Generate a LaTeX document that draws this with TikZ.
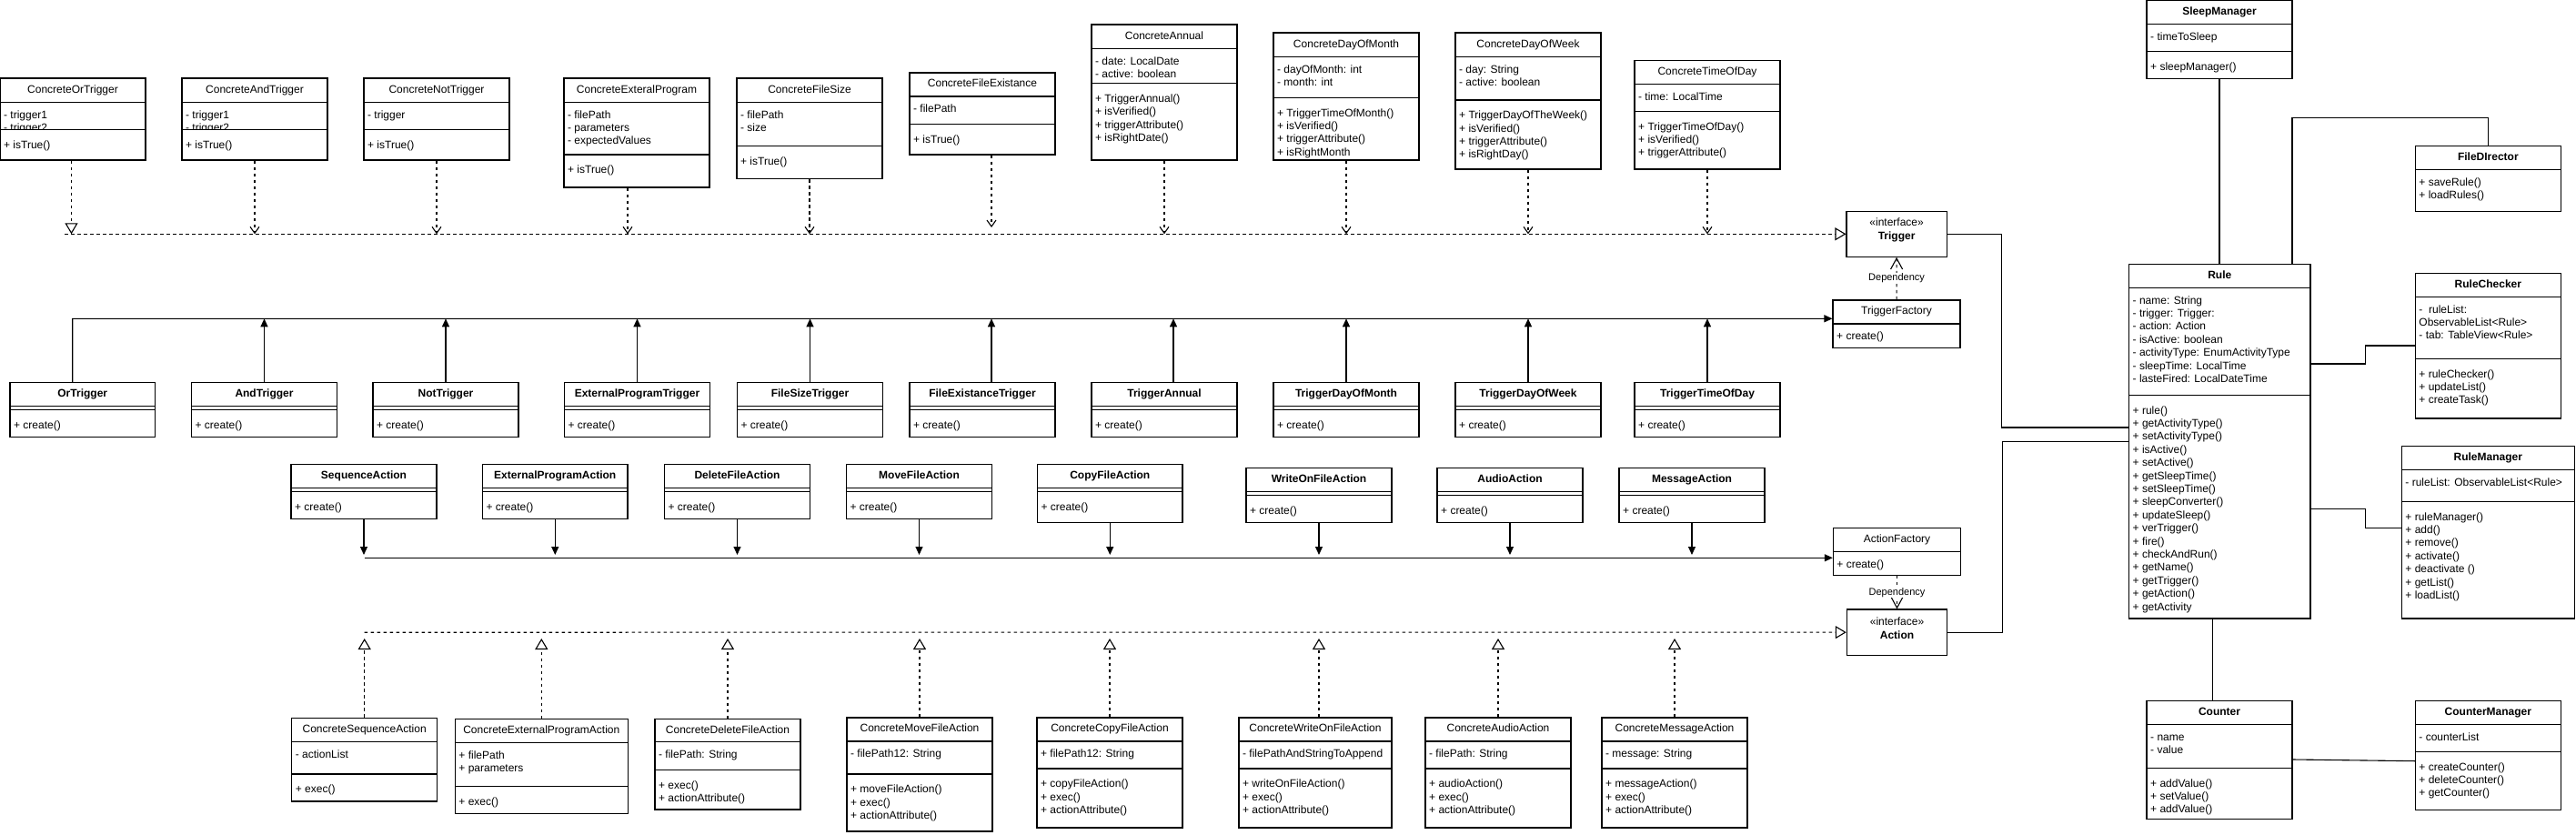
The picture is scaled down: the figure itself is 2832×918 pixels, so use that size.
\documentclass[tikz,border=0pt]{standalone}
\usepackage{fontspec}
\setmainfont{Liberation Sans}
\usetikzlibrary{arrows.meta, fit, positioning, calc}

\tikzset{
  classbox/.style={draw, inner sep=0pt, line width=1.1pt},
  classtitle/.style={inner sep=0pt, font=\fontsize{12}{14.4}\selectfont, text height=9pt, text depth=2.5pt},
  member/.style={inner sep=0pt, anchor=north west, align=left, font=\fontsize{12}{14.4}\selectfont, xshift=4.5pt},
  ifacebox/.style={draw, inner sep=0pt, line width=1.1pt, align=center, font=\fontsize{12}{15}\selectfont},
  realline/.style={dash pattern=on 3.5pt off 3.5pt, line width=1.1pt},
  realv/.style={realline, -{Straight Barb[length=7pt,width=10pt]}},
  realt/.style={realline, -{Triangle[open,fill=white,length=12pt,width=14pt]}},
  dep/.style={realline, -{Straight Barb[length=12pt,width=13pt]}},
  deplabel/.style={fill=white, inner sep=1pt, font=\fontsize{11}{13}\selectfont},
  flow/.style={line width=1.1pt, -{Triangle[length=9pt,width=8pt]}},
  assoc/.style={line width=1.1pt},
}

\newcommand{\umlclass}[8]{%
  \node[classbox, fit={(#2) (#3)}] (#1) {};
  \draw[line width=1.1pt] (#1.west |- 0,#4) -- (#1.east |- 0,#4);
  \draw[line width=1.1pt] (#1.west |- 0,#5) -- (#1.east |- 0,#5);
  \path (#1.north) -- (#1.north |- 0,#4) node[midway, classtitle] (#1-t) {#6};
  \begin{scope}
    \clip (#1.west |- 0,#4) rectangle (#1.east |- 0,#5);
    \node[member, yshift=-8.5pt] (#1-a) at (#1.west |- 0,#4) {\rule{0pt}{9pt}#7};
  \end{scope}
  \node[member, yshift=-11.5pt] (#1-m) at (#1.west |- 0,#5) {\rule{0pt}{9pt}#8};
}

\newcommand{\umlbox}[6]{%
  \node[classbox, fit={(#2) (#3)}] (#1) {};
  \draw[line width=1.1pt] (#1.west |- 0,#4) -- (#1.east |- 0,#4);
  \path (#1.north) -- (#1.north |- 0,#4) node[midway, classtitle] (#1-t) {#5};
  \node[member, yshift=-8.5pt] (#1-m) at (#1.west |- 0,#4) {\rule{0pt}{9pt}#6};
}

\begin{document}
\begin{tikzpicture}[x=1pt, y=-1pt]
\useasboundingbox (0,0) rectangle (2832,918);

\umlclass{cOr}{0,86}{160,176}{112.3}{142.7}{ConcreteOrTrigger}{- trigger1\\- trigger2}{+ isTrue()}
\umlclass{cAnd}{200,86}{360,176}{112.3}{142.7}{ConcreteAndTrigger}{- trigger1\\- trigger2}{+ isTrue()}
\umlclass{cNot}{400,86}{560,176}{112.3}{142.7}{ConcreteNotTrigger}{- trigger}{+ isTrue()}
\umlclass{cExt}{620,86}{780,206}{112.3}{170}{ConcreteExteralProgram}{- filePath\\- parameters\\- expectedValues}{+ isTrue()}
\umlclass{cSize}{810,86}{970,196.7}{112.7}{160.7}{ConcreteFileSize}{- filePath\\- size}{+ isTrue()}
\umlclass{cExi}{1000,80}{1160,170}{106}{136.7}{ConcreteFileExistance}{- filePath}{+ isTrue()}
\umlclass{cAnn}{1200,27}{1360,176}{53.5}{91.7}{ConcreteAnnual}{- date: LocalDate\\- active: boolean}{+ TriggerAnnual()\\+ isVerified()\\+ triggerAttribute()\\+ isRightDate()}
\umlclass{cDom}{1400,36}{1560,176}{62.3}{107.3}{ConcreteDayOfMonth}{- dayOfMonth: int\\- month: int}{+ TriggerTimeOfMonth()\\+ isVerified()\\+ triggerAttribute()\\+ isRightMonth}
\umlclass{cDow}{1600,36}{1760,186}{62.3}{110}{ConcreteDayOfWeek}{- day: String\\- active: boolean}{+ TriggerDayOfTheWeek()\\+ isVerified()\\+ triggerAttribute()\\+ isRightDay()}
\umlclass{cTod}{1797,66.7}{1957,186}{92.3}{122.3}{ConcreteTimeOfDay}{- time: LocalTime}{+ TriggerTimeOfDay()\\+ isVerified()\\+ triggerAttribute()}

\node[ifacebox, fit={(2030,232.3) (2140.2,282.3)}] (trig) {«interface»\\\textbf{Trigger}};
\umlbox{tFac}{2015,330}{2155,382.3}{356}{TriggerFactory}{+ create()}

\umlclass{orT}{11,420.3}{170.5,480.3}{446.3}{450.3}{\textbf{OrTrigger}}{}{+ create()}
\umlclass{andT}{210.5,420.3}{370.5,480.3}{446.3}{450.3}{\textbf{AndTrigger}}{}{+ create()}
\umlclass{notT}{410,420.3}{570,480.3}{446.3}{450.3}{\textbf{NotTrigger}}{}{+ create()}
\umlclass{extT}{620.5,420.3}{780.5,480.3}{446.3}{450.3}{\textbf{ExternalProgramTrigger}}{}{+ create()}
\umlclass{sizeT}{810.5,420.3}{970.5,480.3}{446.3}{450.3}{\textbf{FileSizeTrigger}}{}{+ create()}
\umlclass{exiT}{1000,420.3}{1160,480.3}{446.3}{450.3}{\textbf{FileExistanceTrigger}}{}{+ create()}
\umlclass{annT}{1200,420.3}{1360,480.3}{446.3}{450.3}{\textbf{TriggerAnnual}}{}{+ create()}
\umlclass{domT}{1400,420.3}{1560,480.3}{446.3}{450.3}{\textbf{TriggerDayOfMonth}}{}{+ create()}
\umlclass{dowT}{1600,420.3}{1760,480.3}{446.3}{450.3}{\textbf{TriggerDayOfWeek}}{}{+ create()}
\umlclass{todT}{1797,420.3}{1957,480.3}{446.3}{450.3}{\textbf{TriggerTimeOfDay}}{}{+ create()}

\umlclass{seqA}{320,510.3}{480,570.3}{536.3}{540.3}{\textbf{SequenceAction}}{}{+ create()}
\umlclass{extA}{530.5,510.3}{690,570.3}{536.3}{540.3}{\textbf{ExternalProgramAction}}{}{+ create()}
\umlclass{delA}{730.5,510.3}{890.5,570.3}{536.3}{540.3}{\textbf{DeleteFileAction}}{}{+ create()}
\umlclass{movA}{930.5,510.3}{1090.5,570.3}{536.3}{540.3}{\textbf{MoveFileAction}}{}{+ create()}
\umlclass{copA}{1140.5,510.3}{1300,574.3}{536.3}{540.3}{\textbf{CopyFileAction}}{}{+ create()}
\umlclass{wriA}{1370,514.3}{1530,574.3}{540.3}{544.3}{\textbf{WriteOnFileAction}}{}{+ create()}
\umlclass{audA}{1580,514.3}{1740,574.3}{540.3}{544.3}{\textbf{AudioAction}}{}{+ create()}
\umlclass{mesA}{1780,514.3}{1940,574.3}{540.3}{544.3}{\textbf{MessageAction}}{}{+ create()}

\umlbox{aFac}{2015.3,580.3}{2155.7,632.3}{606.7}{ActionFactory}{+ create()}
\node[ifacebox, fit={(2030.3,670) (2140.7,720.3)}] (act) {«interface»\\\textbf{Action}};

\umlclass{bSeq}{320.7,789.3}{480.7,881}{815.7}{851}{ConcreteSequenceAction}{- actionList}{+ exec()}
\umlclass{bExt}{500.3,790.7}{690.3,894.3}{816.7}{864.7}{ConcreteExternalProgramAction}{+ filePath\\+ parameters}{+ exec()}
\umlclass{bDel}{720,790.7}{880,890}{815.7}{846.3}{ConcreteDeleteFileAction}{- filePath: String}{+ exec()\\+ actionAttribute()}
\umlclass{bMov}{931,789}{1091,914}{815}{851}{ConcreteMoveFileAction}{- filePath12: String}{+ moveFileAction()\\+ exec()\\+ actionAttribute()}
\umlclass{bCop}{1140,789}{1300,910}{815}{845}{ConcreteCopyFileAction}{+ filePath12: String}{+ copyFileAction()\\+ exec()\\+ actionAttribute()}
\umlclass{bWri}{1362,789}{1530,910}{815}{845}{ConcreteWriteOnFileAction}{- filePathAndStringToAppend}{+ writeOnFileAction()\\+ exec()\\+ actionAttribute()}
\umlclass{bAud}{1567,789}{1727,910}{815}{845}{ConcreteAudioAction}{- filePath: String}{+ audioAction()\\+ exec()\\+ actionAttribute()}
\umlclass{bMes}{1761,789}{1921,910}{815}{845}{ConcreteMessageAction}{- message: String}{+ messageAction()\\+ exec()\\+ actionAttribute()}

\umlclass{sleep}{2360,0.6}{2520,86.3}{26.7}{56.7}{\textbf{SleepManager}}{- timeToSleep}{+ sleepManager()}
\umlclass{rule}{2340.5,290.3}{2540,680}{316.3}{434.3}{\textbf{Rule}}{- name: String\\- trigger: Trigger:\\- action: Action\\- isActive: boolean\\- activityType: EnumActivityType\\- sleepTime: LocalTime\\- lasteFired: LocalDateTime}{+ rule()\\+ getActivityType()\\+ setActivityType()\\+ isActive()\\+ setActive()\\+ getSleepTime()\\+ setSleepTime()\\+ sleepConverter()\\+ updateSleep()\\+ verTrigger()\\+ fire()\\+ checkAndRun()\\+ getName()\\+ getTrigger()\\+ getAction()\\+ getActivity}
\umlbox{fdir}{2655.3,160.3}{2815.4,232.3}{186.3}{\textbf{FileDIrector}}{+ saveRule()\\+ loadRules()}
\umlclass{rchk}{2655.3,300.3}{2815.4,460}{326.3}{394.3}{\textbf{RuleChecker}}{-\ \ ruleList:\\ObservableList<Rule>\\- tab: TableView<Rule>}{+ ruleChecker()\\+ updateList()\\+ createTask()}
\umlclass{rmgr}{2640.3,490.3}{2830.3,680}{516.7}{551.3}{\textbf{RuleManager}}{- ruleList: ObservableList<Rule>}{+ ruleManager()\\+ add()\\+ remove()\\+ activate()\\+ deactivate ()\\+ getList()\\+ loadList()}
\umlclass{cnt}{2360,770.3}{2520,900.3}{796.3}{844.3}{\textbf{Counter}}{- name\\- value}{+ addValue()\\+ setValue()\\+ addValue()}
\umlclass{cmgr}{2655.3,770.3}{2815.4,890.3}{796.3}{826.3}{\textbf{CounterManager}}{- counterList}{+ createCounter()\\+ deleteCounter()\\+ getCounter()}

\coordinate (tline) at (0,257.3);
\coordinate (tleft) at (71.4,257.3);
\coordinate (tstop) at (0,250);
\coordinate (pExt) at ([xshift=-10pt]cExt.south);
\coordinate (pExi) at ([xshift=10pt]cExi.south);
\draw[realt] (tleft) -- (trig.west);
\draw[realt] ([xshift=-1.5pt]cOr.south) -- ([xshift=-1.5pt]cOr.south |- tline);
\draw[realv] (cAnd.south) -- (cAnd.south |- tline);
\draw[realv] (cNot.south) -- (cNot.south |- tline);
\draw[realv] (pExt) -- (pExt |- tline);
\draw[realv] (cSize.south) -- (cSize.south |- tline);
\draw[realv] (pExi) -- (pExi |- tstop);
\draw[realv] (cAnn.south) -- (cAnn.south |- tline);
\draw[realv] (cDom.south) -- (cDom.south |- tline);
\draw[realv] (cDow.south) -- (cDow.south |- tline);
\draw[realv] (cTod.south) -- (cTod.south |- tline);

\draw[dep] (tFac) -- (trig) node[midway, deplabel] (depT) {Dependency};

\coordinate (tbus) at (79.7,350.3);
\coordinate (pExiT) at ([xshift=10pt]exiT.north);
\coordinate (pAnnT) at ([xshift=10pt]annT.north);
\draw[flow] ([xshift=-11pt]orT.north) -- (tbus) -- (tFac.west |- tbus);
\draw[flow] (andT.north) -- (andT.north |- tbus);
\draw[flow] (notT.north) -- (notT.north |- tbus);
\draw[flow] (extT.north) -- (extT.north |- tbus);
\draw[flow] (sizeT.north) -- (sizeT.north |- tbus);
\draw[flow] (pExiT) -- (pExiT |- tbus);
\draw[flow] (pAnnT) -- (pAnnT |- tbus);
\draw[flow] (domT.north) -- (domT.north |- tbus);
\draw[flow] (dowT.north) -- (dowT.north |- tbus);
\draw[flow] (todT.north) -- (todT.north |- tbus);

\coordinate (abus) at (400.5,613.3);
\coordinate (atip) at (0,610);
\draw[flow] (abus) -- (aFac.west |- abus);
\draw[flow] (seqA.south) -- (seqA.south |- atip);
\draw[flow] (extA.south) -- (extA.south |- atip);
\draw[flow] (delA.south) -- (delA.south |- atip);
\draw[flow] (movA.south) -- (movA.south |- atip);
\draw[flow] (copA.south) -- (copA.south |- atip);
\draw[flow] (wriA.south) -- (wriA.south |- atip);
\draw[flow] (audA.south) -- (audA.south |- atip);
\draw[flow] (mesA.south) -- (mesA.south |- atip);

\draw[dep] (aFac) -- (act) node[midway, deplabel] (depA) {Dependency};

\coordinate (aleft) at (400.5,695.2);
\coordinate (abot) at (0,702);
\draw[realt] (aleft) -- (act.west);
\draw[realt] (bSeq.north) -- (bSeq.north |- abot);
\draw[realt] (bExt.north) -- (bExt.north |- abot);
\draw[realt] (bDel.north) -- (bDel.north |- abot);
\draw[realt] (bMov.north) -- (bMov.north |- abot);
\draw[realt] (bCop.north) -- (bCop.north |- abot);
\draw[realt] ([xshift=4pt]bWri.north) -- ([xshift=4pt]bWri.north |- abot);
\draw[realt] (bAud.north) -- (bAud.north |- abot);
\draw[realt] (bMes.north) -- (bMes.north |- abot);

\draw[assoc] (trig.east) -- ++(60,0) |- (rule.west |- 0,470);
\draw[assoc] (act.east) -- ++(60,0) |- (rule.west |- 0,485.3);
\draw[assoc] (sleep.south) -- (rule.north -| sleep.south);
\draw[assoc] (rule.north -| 2520,0) -- ++(0,-160) -| (fdir.north);
\draw[assoc] (rule.east |- 0,400) -- ++(60,0) |- (rchk.west |- 0,380);
\draw[assoc] (rule.east |- 0,559.3) -- ++(60,0) |- (rmgr.west |- 0,580.3);
\draw[assoc] (rule.south -| 2432.4,0) -- (cnt.north -| 2432.4,0);
\draw[assoc] (cnt.east |- 0,835) -- (cmgr.west |- 0,836.7);

\end{tikzpicture}
\end{document}
